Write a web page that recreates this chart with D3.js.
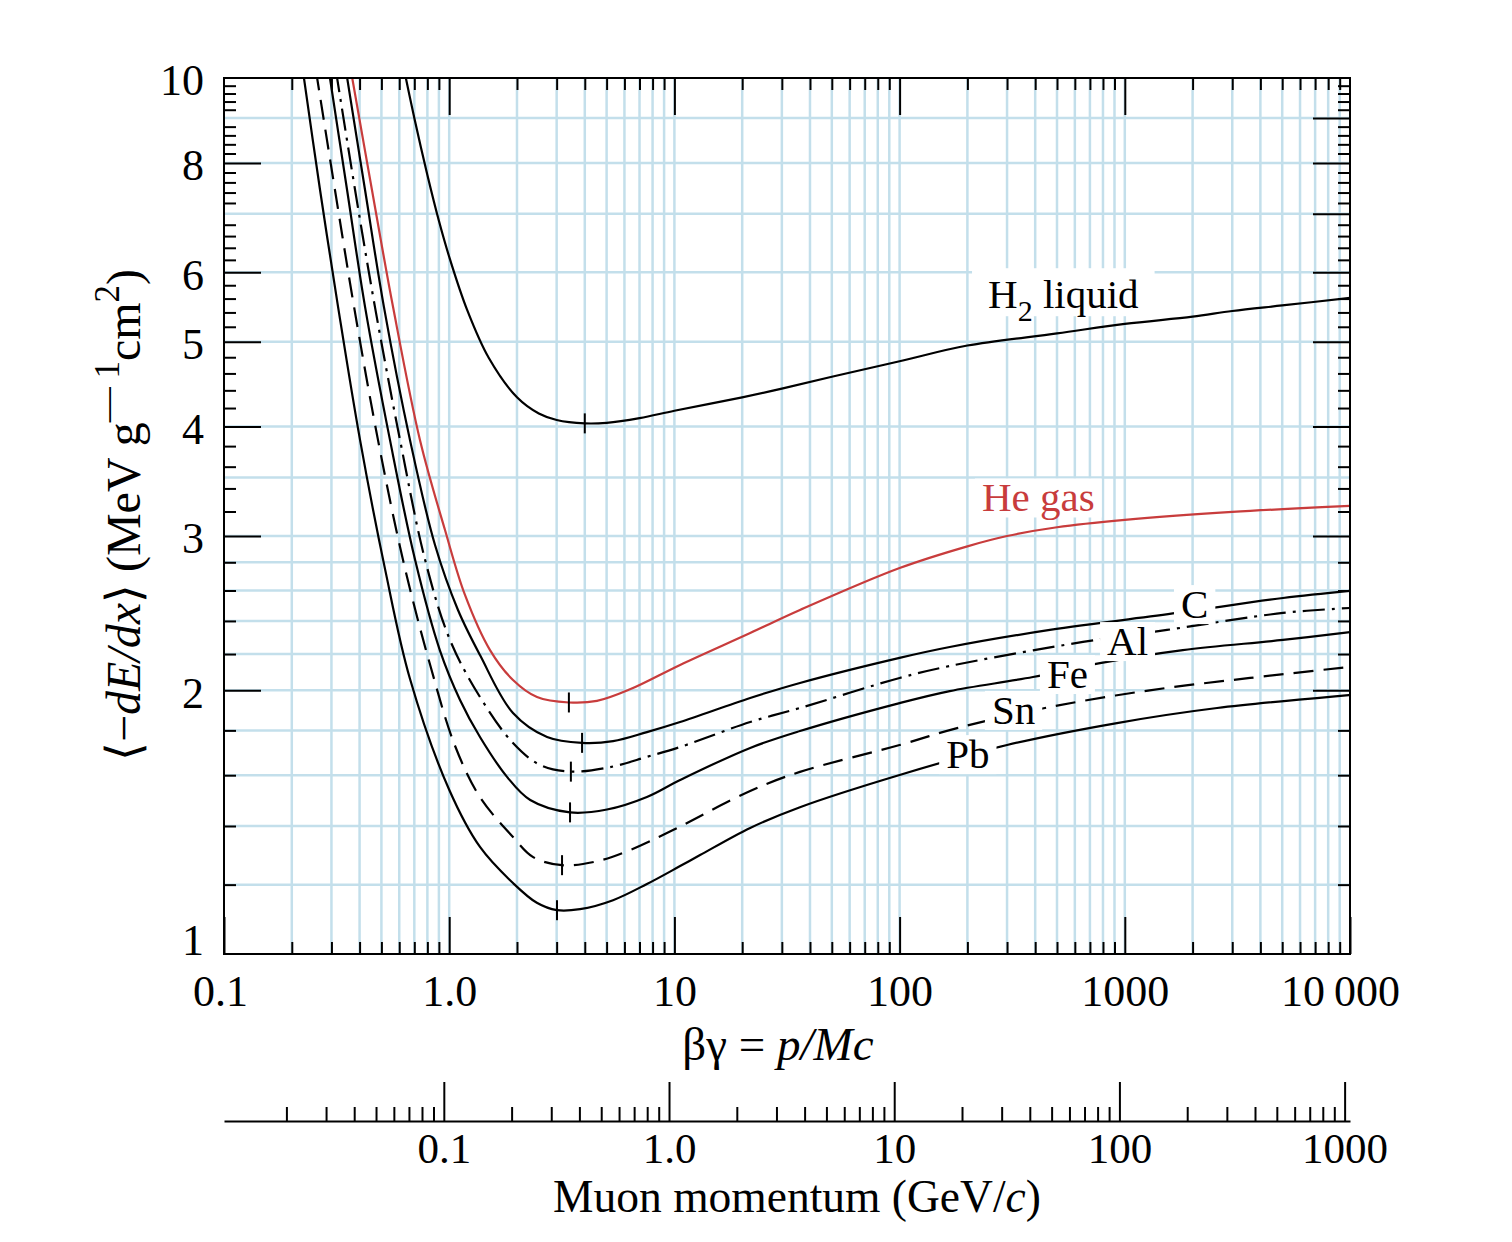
<!DOCTYPE html>
<html><head><meta charset="utf-8">
<script src="https://cdn.jsdelivr.net/npm/d3@7"></script>
<style>
body{margin:0;background:#fff}
svg{display:block}
text{font-family:"Liberation Serif","Times New Roman",serif;fill:#000}
</style>
</head><body>
<svg id="c" width="1512" height="1242"></svg>
<script>
// ---------- data ----------
const xTickValues = [0.1, 1, 10, 100, 1000, 10000];
const xTickLabels = ["0.1", "1.0", "10", "100", "1000", "10\u2009000"];
const yTickValues = [1, 2, 3, 4, 5, 6, 8, 10];
const yTickLabels = ["1", "2", "3", "4", "5", "6", "8", "10"];
const yMajorTicks = [2, 3, 4, 5, 6, 7, 8, 9];
const yGridValues = [1.2, 1.4, 1.6, 1.8, 2, 2.2, 2.4, 2.6, 2.8, 3, 3.5, 4, 5, 6, 7, 8, 9];
const muonTickValues = [0.1, 1, 10, 100, 1000];
const muonTickLabels = ["0.1", "1.0", "10", "100", "1000"];
const muonMass = 0.10566; // GeV/c^2

// [beta*gamma, <-dE/dx>]
const h2Liquid = [[0.62,10.44],[0.7,9.0],[0.8,7.75],[0.9,6.87],[1.0,6.25],[1.2,5.44],[1.5,4.79],[2,4.32],[2.5,4.14],[3,4.07],[4,4.034],[5,4.04],[7,4.09],[10,4.17],[20,4.32],[30,4.42],[50,4.56],[100,4.75],[200,4.95],[500,5.11],[1000,5.24],[2000,5.34],[3000,5.42],[5000,5.50],[10000,5.61]];
const heGas = [[0.366,10.2],[0.454,7.45],[0.563,5.48],[0.742,3.86],[0.958,3.048],[1.175,2.57],[1.518,2.223],[1.92,2.055],[2.454,1.965],[3.4,1.937],[4.53,1.945],[6.35,2.005],[10.6,2.138],[21.7,2.325],[36.1,2.47],[100,2.758],[200,2.92],[300,3.0],[500,3.07],[1000,3.13],[3000,3.196],[10000,3.247]];
const carbon = [[0.348,10.2],[0.423,7.45],[0.513,5.48],[0.67,3.86],[0.865,2.93],[1.094,2.47],[1.37,2.194],[1.92,1.884],[2.72,1.769],[3.89,1.742],[5.34,1.75],[7.55,1.792],[10.6,1.84],[21.7,1.96],[36.1,2.039],[100,2.178],[167,2.241],[465,2.344],[1705,2.451],[5040,2.549],[10000,2.597]];
const aluminum = [[0.314,10.2],[0.382,7.45],[0.468,5.48],[0.605,3.86],[0.781,2.82],[1.008,2.283],[1.37,1.965],[1.92,1.741],[2.53,1.644],[3.47,1.615],[5.34,1.637],[7.55,1.679],[10.6,1.723],[21.7,1.84],[36.1,1.909],[100,2.066],[167,2.132],[652,2.271],[1540,2.344],[5040,2.451],[10000,2.483]];
const iron = [[0.292,10.2],[0.352,7.45],[0.423,5.48],[0.546,3.86],[0.705,2.82],[0.91,2.22],[1.117,1.95],[1.37,1.769],[1.81,1.592],[2.29,1.499],[3.44,1.451],[5.02,1.462],[7.55,1.511],[10.6,1.58],[21.7,1.719],[36.1,1.797],[100,1.934],[167,1.996],[391,2.071],[776,2.148],[1810,2.223],[5040,2.283],[10000,2.331]];
const tin = [[0.256,10.2],[0.311,7.45],[0.378,5.48],[0.483,3.86],[0.623,2.82],[0.822,2.14],[1.06,1.73],[1.37,1.51],[1.92,1.36],[2.36,1.29],[3.17,1.263],[4.53,1.276],[6.35,1.314],[9.86,1.385],[21.7,1.535],[36.1,1.614],[100,1.732],[180,1.811],[465,1.914],[1290,2.0],[3600,2.066],[10000,2.127]];
const lead = [[0.224,10.2],[0.267,7.45],[0.321,5.48],[0.402,3.86],[0.519,2.75],[0.67,2.06],[1.0,1.54],[1.37,1.325],[1.92,1.205],[2.45,1.144],[3.01,1.122],[3.81,1.125],[5.34,1.152],[7.55,1.202],[10.6,1.26],[13.0,1.297],[21.7,1.393],[36.1,1.471],[100,1.601],[300,1.732],[923,1.835],[2570,1.909],[10000,1.975]];

const materialNames = ["H2 liquid", "He gas", "C", "Al", "Fe", "Sn", "Pb"];
const minBetaGamma = [4.0, 3.4, 3.89, 3.47, 3.44, 3.17, 3.01];
const minValues = [4.034, 1.937, 1.742, 1.615, 1.451, 1.263, 1.122];

// ---------- layout / styles ----------
const L = 224, R = 1350, T = 78, B = 954, muonY = 1121;
const gridColor = "#c3dfeb";
const redColor = "#c83c3c";
const series = [
  {data: h2Liquid, color: "#000", dash: null},
  {data: heGas, color: redColor, dash: null},
  {data: carbon, color: "#000", dash: null},
  {data: aluminum, color: "#000", dash: "22,7,3,7"},
  {data: iron, color: "#000", dash: null},
  {data: tin, color: "#000", dash: "20,10"},
  {data: lead, color: "#000", dash: null}
];
// label anchors (beta*gamma, value) for text start / baseline
const labelAnchors = [
  {i:0, bg:247, v:5.46, color:"#000", sub:true},
  {i:1, bg:232, v:3.20, color:redColor},
  {i:2, bg:1776, v:2.418, color:"#000"},
  {i:3, bg:834, v:2.194, color:"#000"},
  {i:4, bg:451, v:2.012, color:"#000"},
  {i:5, bg:257, v:1.831, color:"#000"},
  {i:6, bg:161, v:1.630, color:"#000"}
];

const svg = d3.select("#c");
const x = d3.scaleLog().domain([0.1, 10000]).range([L, R]);
const y = d3.scaleLog().domain([1, 10]).range([B, T]);
const xm = d3.scaleLog().domain([0.1 * muonMass, 10000 * muonMass]).range([L, R]);

// minor values
const xMinor = [];
[0.1, 1, 10, 100, 1000].forEach(d => { for (let k = 2; k <= 9; k++) xMinor.push(+(d * k).toPrecision(3)); });
const xGrid = xMinor.concat([1, 10, 100, 1000]);
const yMinor = [];
for (let k = 12; k < 100; k += 2) { if (k % 10 !== 0) yMinor.push(k / 10); }
const mMinor = [];
[0.01, 0.1, 1, 10, 100].forEach(d => { for (let k = 2; k <= 9; k++) mMinor.push(+(d * k).toPrecision(3)); });

// ---------- grid ----------
const grid = svg.append("g");
grid.selectAll("line.gx").data(xGrid).join("line")
  .attr("x1", d => x(d)).attr("x2", d => x(d)).attr("y1", T).attr("y2", B)
  .attr("stroke", gridColor).attr("stroke-width", 2.5);
grid.selectAll("line.gy").data(yGridValues).join("line")
  .attr("x1", L).attr("x2", R).attr("y1", d => y(d)).attr("y2", d => y(d))
  .attr("stroke", gridColor).attr("stroke-width", 2.5);

// ---------- curves ----------
svg.append("clipPath").attr("id", "plotclip").append("rect")
  .attr("x", L).attr("y", T).attr("width", R - L).attr("height", B - T);
const line = d3.line().x(d => x(d[0])).y(d => y(d[1])).curve(d3.curveCatmullRom.alpha(0.5));
const curves = svg.append("g").attr("clip-path", "url(#plotclip)");
series.forEach(s => {
  curves.append("path").attr("d", line(s.data)).attr("fill", "none")
    .attr("stroke", s.color).attr("stroke-width", 2.2)
    .attr("stroke-linejoin", "round")
    .attr("stroke-dasharray", s.dash);
});
// minimum markers
svg.append("g").selectAll("line").data(minValues).join("line")
  .attr("x1", (d, i) => x(minBetaGamma[i])).attr("x2", (d, i) => x(minBetaGamma[i]))
  .attr("y1", d => y(d) - 10).attr("y2", d => y(d) + 10)
  .attr("stroke", "#000").attr("stroke-width", 2);

// ---------- curve labels ----------
const lab = svg.append("g");
labelAnchors.forEach(a => {
  const g = lab.append("g");
  const bx = x(a.bg), by = y(a.v);
  const t = g.append("text").attr("x", bx).attr("y", by)
    .attr("font-size", 41).style("fill", a.color);
  if (a.sub) {
    t.append("tspan").text("H");
    t.append("tspan").attr("dy", 13).attr("font-size", 30).text("2");
    t.append("tspan").attr("dy", -13).text(" liquid");
  } else {
    t.text(materialNames[a.i]);
  }
  const bb = t.node().getBBox();
  const px = a.sub ? 16 : 7;
  const top = by - (a.sub ? 40 : 33), bottom = by + (a.sub ? 8 : 6);
  g.insert("rect", "text").attr("x", bb.x - px).attr("y", top)
    .attr("width", bb.width + 2 * px).attr("height", bottom - top)
    .attr("fill", "#fff");
});

// ---------- frame & axes ----------
svg.append("rect").attr("x", L).attr("y", T).attr("width", R - L).attr("height", B - T)
  .attr("fill", "none").attr("stroke", "#000").attr("stroke-width", 2);

function styleAxis(g, fs) {
  g.select(".domain").remove();
  g.selectAll(".tick line").attr("stroke", "#000").attr("stroke-width", 2);
  g.selectAll(".tick text").attr("font-size", fs || 44)
    .attr("font-family", '"Liberation Serif","Times New Roman",serif').attr("fill", "#000");
}
// bottom
const bMaj = svg.append("g").attr("transform", `translate(0,${B})`)
  .call(d3.axisBottom(x).tickValues(xTickValues).tickSize(-37).tickPadding(21)
    .tickFormat((d, i) => xTickLabels[i]));
styleAxis(bMaj);
bMaj.selectAll(".tick text").filter(d => d === 10000).attr("dx", -10);
bMaj.selectAll(".tick text").filter(d => d === 0.1).attr("dx", -4);
styleAxis(svg.append("g").attr("transform", `translate(0,${B})`)
  .call(d3.axisBottom(x).tickValues(xMinor).tickSize(-12).tickFormat("")));
// top
styleAxis(svg.append("g").attr("transform", `translate(0,${T})`)
  .call(d3.axisTop(x).tickValues([1, 10, 100, 1000]).tickSize(-37).tickFormat("")));
styleAxis(svg.append("g").attr("transform", `translate(0,${T})`)
  .call(d3.axisTop(x).tickValues(xMinor).tickSize(-12).tickFormat("")));
// left
const lMaj = svg.append("g").attr("transform", `translate(${L},0)`)
  .call(d3.axisLeft(y).tickValues(yTickValues).tickSize(-37).tickPadding(20)
    .tickFormat((d, i) => yTickLabels[i]));
styleAxis(lMaj);
lMaj.selectAll(".tick text").attr("dy", d => d === 1 ? "0.02em" : "0.38em");
lMaj.selectAll(".tick line").filter(d => d === 1 || d === 10).remove();
styleAxis(svg.append("g").attr("transform", `translate(${L},0)`)
  .call(d3.axisLeft(y).tickValues(yMinor).tickSize(-12).tickFormat("")));
// right
styleAxis(svg.append("g").attr("transform", `translate(${R},0)`)
  .call(d3.axisRight(y).tickValues(yMajorTicks).tickSize(-37).tickFormat("")));
styleAxis(svg.append("g").attr("transform", `translate(${R},0)`)
  .call(d3.axisRight(y).tickValues(yMinor).tickSize(-12).tickFormat("")));

// muon momentum axis
const mAx = svg.append("g").attr("transform", `translate(0,${muonY})`)
  .call(d3.axisBottom(xm).tickValues(muonTickValues).tickSize(-39).tickSizeOuter(0).tickPadding(11)
    .tickFormat((d, i) => muonTickLabels[i]));
mAx.selectAll(".tick line").attr("stroke", "#000").attr("stroke-width", 2);
mAx.selectAll(".tick text").attr("font-size", 43)
  .attr("font-family", '"Liberation Serif","Times New Roman",serif').attr("fill", "#000");
mAx.select(".domain").attr("stroke", "#000").attr("stroke-width", 2.2);
styleAxis(svg.append("g").attr("transform", `translate(0,${muonY})`)
  .call(d3.axisBottom(xm).tickValues(mMinor).tickSize(-14).tickFormat("")));

// ---------- titles ----------
const xt = svg.append("text").attr("x", 778).attr("y", 1060).attr("text-anchor", "middle").attr("font-size", 47);
xt.append("tspan").text("\u03B2\u03B3 = ");
xt.append("tspan").attr("font-style", "italic").text("p/Mc");

const mt = svg.append("text").attr("x", 797).attr("y", 1212).attr("text-anchor", "middle").attr("font-size", 45.5);
mt.append("tspan").text("Muon momentum (GeV/");
mt.append("tspan").attr("font-style", "italic").text("c");
mt.append("tspan").text(")");

const yt = svg.append("text").attr("transform", "translate(140,515) rotate(-90)")
  .attr("text-anchor", "middle").attr("font-size", 48);
yt.append("tspan").text("\u27E8\u2212");
yt.append("tspan").attr("font-style", "italic").text("dE/dx");
yt.append("tspan").text("\u27E9 (MeV g");
yt.append("tspan").attr("dy", -21).attr("font-size", 35).text("\u2014 1");
yt.append("tspan").attr("dy", 21).text("cm");
yt.append("tspan").attr("dy", -21).attr("font-size", 35).text("2");
yt.append("tspan").attr("dy", 21).text(")");
</script>
</body></html>
